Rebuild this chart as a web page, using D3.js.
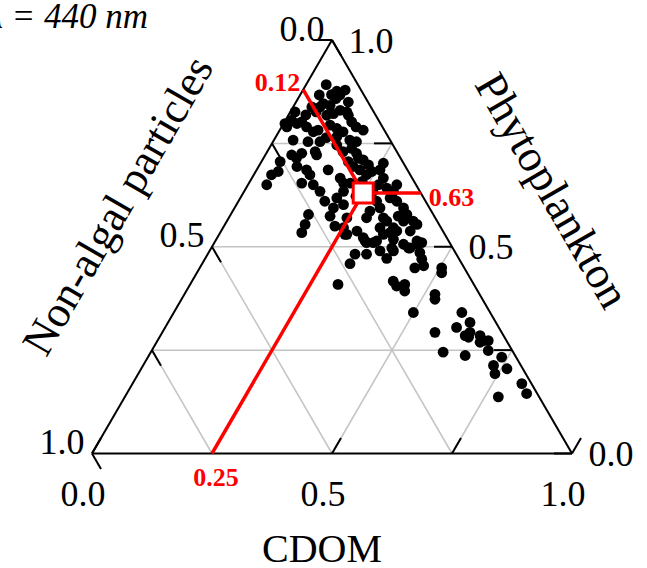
<!DOCTYPE html>
<html>
<head>
<meta charset="utf-8">
<script src="https://cdn.jsdelivr.net/npm/d3@7"></script>
<style>
  body { margin: 0; background: #fff; }
  svg { display: block; font-family: "Liberation Serif", "Times New Roman", serif; }
</style>
</head>
<body>
<svg id="ternary" width="647" height="568"></svg>
<script>
// fractions (NAP = 1 - CDOM - phyto)
const cdom = [0.042, 0.072, 0.065, 0.083, 0.079, 0.040, 0.109, 0.059, 0.075, 0.056,
  0.039, 0.054, 0.010, 0.102, 0.118, 0.092, 0.080, 0.125, 0.140, 0.003,
  0.013, 0.028, 0.036, 0.052, 0.072, 0.080, 0.174, 0.099, 0.117, 0.134,
  0.127, 0.011, 0.040, 0.158, 0.174, 0.172, 0.098, 0.137, 0.158, 0.074,
  0.069, 0.055, 0.100, 0.107, 0.039, 0.188, 0.198, 0.210, 0.227, 0.181,
  0.197, 0.256, 0.080, 0.104, 0.117, 0.037, 0.039, 0.110, 0.136, 0.149,
  0.215, 0.235, 0.242, 0.257, 0.274, 0.184, 0.197, 0.211, 0.272, 0.293,
  0.311, 0.310, 0.312, 0.207, 0.201, 0.223, 0.206, 0.209, 0.288, 0.303,
  0.322, 0.333, 0.330, 0.352, 0.367, 0.368, 0.286, 0.287, 0.388, 0.400,
  0.162, 0.167, 0.170, 0.246, 0.251, 0.266, 0.283, 0.304, 0.317, 0.327,
  0.342, 0.354, 0.366, 0.369, 0.420, 0.414, 0.336, 0.331, 0.396, 0.231,
  0.262, 0.312, 0.331, 0.355, 0.307, 0.308, 0.376, 0.383, 0.378, 0.411,
  0.424, 0.432, 0.440, 0.452, 0.448, 0.464, 0.504, 0.510, 0.308, 0.419,
  0.432, 0.447, 0.455, 0.522, 0.528, 0.499, 0.600, 0.607, 0.629, 0.641,
  0.635, 0.644, 0.568, 0.666, 0.679, 0.689, 0.674, 0.609, 0.659, 0.701,
  0.737, 0.730, 0.743, 0.762, 0.811, 0.833, 0.778, 0.106, 0.073, 0.155,
  0.234, 0.268, 0.239, 0.158, 0.180, 0.351, 0.394, 0.355, 0.088, 0.036,
  0.047];
const phyto = [0.892, 0.876, 0.868, 0.867, 0.858, 0.867, 0.850, 0.846, 0.842, 0.838,
  0.838, 0.826, 0.826, 0.830, 0.826, 0.822, 0.818, 0.818, 0.802, 0.798,
  0.806, 0.798, 0.802, 0.790, 0.778, 0.782, 0.782, 0.794, 0.786, 0.778,
  0.766, 0.790, 0.758, 0.758, 0.754, 0.738, 0.754, 0.746, 0.730, 0.726,
  0.714, 0.722, 0.730, 0.722, 0.706, 0.726, 0.714, 0.710, 0.698, 0.706,
  0.694, 0.702, 0.694, 0.686, 0.674, 0.674, 0.650, 0.654, 0.650, 0.686,
  0.686, 0.674, 0.682, 0.686, 0.666, 0.666, 0.654, 0.654, 0.650, 0.642,
  0.634, 0.650, 0.618, 0.634, 0.618, 0.602, 0.594, 0.574, 0.610, 0.594,
  0.570, 0.562, 0.610, 0.594, 0.578, 0.562, 0.586, 0.570, 0.562, 0.554,
  0.578, 0.554, 0.534, 0.570, 0.546, 0.530, 0.538, 0.522, 0.510, 0.546,
  0.530, 0.534, 0.538, 0.518, 0.514, 0.497, 0.514, 0.510, 0.506, 0.550,
  0.530, 0.514, 0.482, 0.546, 0.482, 0.459, 0.497, 0.490, 0.472, 0.497,
  0.506, 0.510, 0.486, 0.470, 0.449, 0.454, 0.449, 0.437, 0.409, 0.417,
  0.405, 0.409, 0.393, 0.385, 0.373, 0.341, 0.341, 0.305, 0.317, 0.293,
  0.285, 0.281, 0.293, 0.285, 0.273, 0.273, 0.269, 0.245, 0.237, 0.249,
  0.233, 0.213, 0.193, 0.205, 0.169, 0.145, 0.137, 0.764, 0.754, 0.790,
  0.658, 0.634, 0.622, 0.634, 0.610, 0.574, 0.538, 0.490, 0.879, 0.819,
  0.682];

// highlighted mean composition
const meanCdom = 0.25, meanNap = 0.12, meanPhyto = 0.63;

const ticks = [0, 0.25, 0.5, 0.75, 1];
const gridVals = [0.25, 0.5, 0.75];
const tickLabels = [0, 0.5, 1];

const svg = d3.select("#ternary");

// bottom axis runs along x, right axis (phytoplankton) gives the height
const x = d3.scaleLinear().domain([0, 1]).range([92, 572]);
const y = d3.scaleLinear().domain([0, 1]).range([453.5, 40]);

// CDOM c, phyto p -> screen
function proj(c, p) { return [x(c + p / 2), y(p)]; }

const tickLen = 18;
const c60 = 0.5, s60 = Math.sqrt(3) / 2;

function seg(g, a, b, color, w) {
  g.append("line")
    .attr("x1", a[0]).attr("y1", a[1])
    .attr("x2", b[0]).attr("y2", b[1])
    .attr("stroke", color)
    .attr("stroke-width", w);
}

// grid
const grid = svg.append("g");
gridVals.forEach(function (v) {
  seg(grid, proj(v, 0), proj(v, 1 - v), "#c4c4c4", 1.5);      // constant CDOM
  seg(grid, proj(0, v), proj(1 - v, v), "#c4c4c4", 1.5);      // constant phyto
  seg(grid, proj(0, 1 - v), proj(1 - v, 0), "#c4c4c4", 1.5);  // constant NAP
});

// triangle frame
const frame = svg.append("g");
seg(frame, proj(0, 0), proj(1, 0), "#000", 2);
seg(frame, proj(1, 0), proj(0, 1), "#000", 2);
seg(frame, proj(0, 1), proj(0, 0), "#000", 2);

// ticks
ticks.forEach(function (v) {
  const b = proj(v, 0);
  seg(frame, b, [b[0] + tickLen * c60, b[1] - tickLen * s60], "#000", 2);
  const l = proj(0, 1 - v);
  seg(frame, l, [l[0] + tickLen * c60, l[1] + tickLen * s60], "#000", 2);
  const r = proj(1 - v, v);
  seg(frame, r, [r[0] - tickLen, r[1]], "#000", 2);
});

// tick labels
const lab = svg.append("g")
  .attr("font-size", 36)
  .attr("text-anchor", "middle")
  .attr("fill", "#000");
tickLabels.forEach(function (v) {
  const b = proj(v, 0);
  lab.append("text").attr("x", b[0] - 9).attr("y", b[1] + 40).attr("dy", "0.35em").text(v.toFixed(1));
  const l = proj(0, 1 - v);
  lab.append("text").attr("x", l[0] - 30).attr("y", l[1] - 12).attr("dy", "0.35em").text(v.toFixed(1));
  const r = proj(1 - v, v);
  lab.append("text").attr("x", r[0] + 39).attr("y", r[1]).attr("dy", "0.35em").text(v.toFixed(1));
});

// axis titles
svg.append("text")
  .attr("x", 322).attr("y", 562)
  .attr("font-size", 40)
  .attr("text-anchor", "middle")
  .text("CDOM");

svg.append("text")
  .attr("transform", "translate(117,205) rotate(-60)")
  .attr("font-size", 44)
  .attr("text-anchor", "middle")
  .attr("dy", "0.35em")
  .text("Non-algal particles");

svg.append("text")
  .attr("transform", "translate(553,190) rotate(60)")
  .attr("font-size", 45)
  .attr("text-anchor", "middle")
  .attr("dy", "0.35em")
  .text("Phytoplankton");

// wavelength note, cut at the left edge like the original
svg.append("text")
  .attr("x", 148).attr("y", 28)
  .attr("font-size", 35)
  .attr("font-style", "italic")
  .attr("text-anchor", "end")
  .text("λ = 440 nm");

// samples
svg.append("g")
  .selectAll("circle")
  .data(d3.range(cdom.length))
  .join("circle")
  .attr("cx", function (i) { return proj(cdom[i], phyto[i])[0]; })
  .attr("cy", function (i) { return proj(cdom[i], phyto[i])[1]; })
  .attr("r", 5.4)
  .attr("fill", "#000");

// mean composition with guides to each axis
const m = proj(meanCdom, meanPhyto);
const red = svg.append("g");
seg(red, m, proj(meanCdom, 0), "#ff0000", 3.5);
seg(red, m, proj(0, 1 - meanNap), "#ff0000", 3.5);
seg(red, m, proj(1 - meanPhyto, meanPhyto), "#ff0000", 3.5);

red.append("rect")
  .attr("x", m[0] - 10).attr("y", m[1] - 10)
  .attr("width", 20).attr("height", 20)
  .attr("fill", "#fff")
  .attr("stroke", "#ff0000")
  .attr("stroke-width", 3);

const redLab = red.append("g")
  .attr("fill", "#ff0000")
  .attr("font-weight", "bold")
  .attr("font-size", 26);
const pn = proj(0, 1 - meanNap);
redLab.append("text").attr("x", pn[0] - 3).attr("y", pn[1] + 1).attr("text-anchor", "end").text(meanNap.toFixed(2));
const pp = proj(1 - meanPhyto, meanPhyto);
redLab.append("text").attr("x", pp[0] + 8).attr("y", pp[1] + 13).attr("text-anchor", "start").text(meanPhyto.toFixed(2));
const pc = proj(meanCdom, 0);
redLab.append("text").attr("x", pc[0] + 4).attr("y", pc[1] + 32).attr("text-anchor", "middle").text(meanCdom.toFixed(2));
</script>
</body>
</html>
